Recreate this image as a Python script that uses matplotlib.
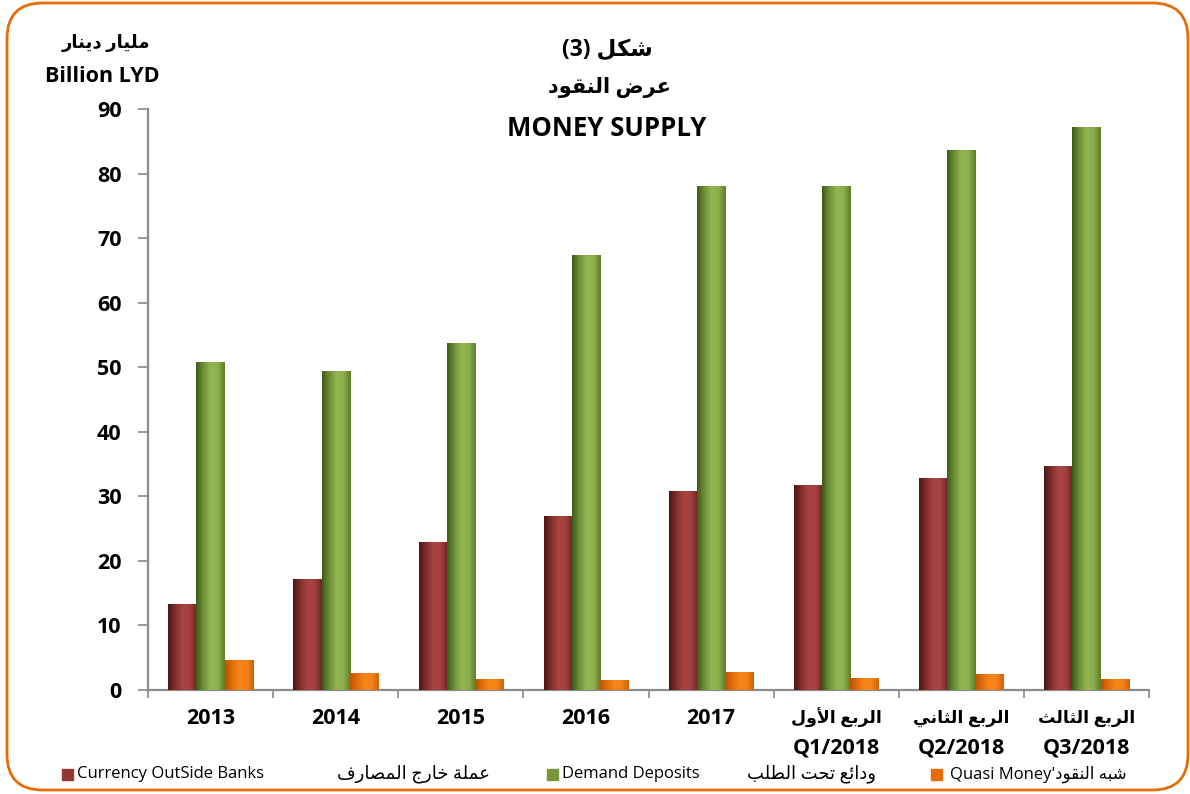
import numpy as np
import matplotlib
matplotlib.use("Agg")
import matplotlib.pyplot as plt
from matplotlib.colors import LinearSegmentedColormap
from matplotlib.patches import FancyBboxPatch, Rectangle

# ---------------- data ----------------
categories_en = ["2013", "2014", "2015", "2016", "2017", "Q1/2018", "Q2/2018", "Q3/2018"]
categories_ar = ["", "", "", "", "", "الربع الأول", "الربع الثاني", "الربع الثالث"]
currency_outside_banks = [13.3, 17.2, 22.9, 27.0, 30.8, 31.8, 32.8, 34.7]
demand_deposits = [50.8, 49.4, 53.7, 67.4, 78.1, 78.1, 83.6, 87.2]
quasi_money = [4.6, 2.6, 1.7, 1.5, 2.8, 1.9, 2.5, 1.7]
y_ticks = [0, 10, 20, 30, 40, 50, 60, 70, 80, 90]

# ---------------- minimal Arabic shaping ----------------
AR_FORMS = {
    '\u0621': (0xFE80, 0), '\u0622': (0xFE81, 1), '\u0623': (0xFE83, 1),
    '\u0624': (0xFE85, 1), '\u0625': (0xFE87, 1), '\u0626': (0xFE89, 2),
    '\u0627': (0xFE8D, 1), '\u0628': (0xFE8F, 2), '\u0629': (0xFE93, 1),
    '\u062A': (0xFE95, 2), '\u062B': (0xFE99, 2), '\u062C': (0xFE9D, 2),
    '\u062D': (0xFEA1, 2), '\u062E': (0xFEA5, 2), '\u062F': (0xFEA9, 1),
    '\u0630': (0xFEAB, 1), '\u0631': (0xFEAD, 1), '\u0632': (0xFEAF, 1),
    '\u0633': (0xFEB1, 2), '\u0634': (0xFEB5, 2), '\u0635': (0xFEB9, 2),
    '\u0636': (0xFEBD, 2), '\u0637': (0xFEC1, 2), '\u0638': (0xFEC5, 2),
    '\u0639': (0xFEC9, 2), '\u063A': (0xFECD, 2), '\u0641': (0xFED1, 2),
    '\u0642': (0xFED5, 2), '\u0643': (0xFED9, 2), '\u0644': (0xFEDD, 2),
    '\u0645': (0xFEE1, 2), '\u0646': (0xFEE5, 2), '\u0647': (0xFEE9, 2),
    '\u0648': (0xFEED, 1), '\u0649': (0xFEEF, 1), '\u064A': (0xFEF1, 2),
}
LAM_ALEF = {'\u0622': (0xFEF5, 0xFEF6), '\u0623': (0xFEF7, 0xFEF8),
            '\u0625': (0xFEF9, 0xFEFA), '\u0627': (0xFEFB, 0xFEFC)}


def ar(s):
    tokens = []
    i = 0
    while i < len(s):
        c = s[i]
        if c == '\u0644' and i + 1 < len(s) and s[i + 1] in LAM_ALEF:
            tokens.append(('LA', s[i + 1]))
            i += 2
        else:
            tokens.append(('C', c))
            i += 1

    def jt(t):
        if t[0] == 'LA':
            return 1
        return AR_FORMS[t[1]][1] if t[1] in AR_FORMS else 0

    res = []
    for k, t in enumerate(tokens):
        j = jt(t)
        pj = k > 0 and jt(tokens[k - 1]) == 2 and j > 0
        nj = k + 1 < len(tokens) and j == 2 and jt(tokens[k + 1]) > 0
        if t[0] == 'LA':
            iso, fin = LAM_ALEF[t[1]]
            res.append(chr(fin if pj else iso))
        elif t[1] in AR_FORMS:
            base, typ = AR_FORMS[t[1]]
            if typ == 0:
                res.append(chr(base))
            elif typ == 1:
                res.append(chr(base + 1 if pj else base))
            else:
                if pj and nj:
                    res.append(chr(base + 3))
                elif pj:
                    res.append(chr(base + 1))
                elif nj:
                    res.append(chr(base + 2))
                else:
                    res.append(chr(base))
        else:
            res.append(t[1])
    return ''.join(res)[::-1]


# ---------------- figure ----------------
FONT = ['Open Sans', 'DejaVu Sans']
LFONT = ['Open Sans', 'DejaVu Sans']
plt.rcParams['font.family'] = FONT

W, H = 1190, 794
fig = plt.figure(figsize=(W / 100, H / 100), dpi=100)
fig.patch.set_facecolor('white')

# rounded orange frame
frame = FancyBboxPatch((7 / W, 4 / H), (1181 / W), (787 / H),
                       boxstyle="round,pad=0,rounding_size=0.03",
                       transform=fig.transFigure, fill=False,
                       edgecolor='#E46C0A', linewidth=2.0, mutation_aspect=W / H)
fig.patches.append(frame)

ax_l, ax_r, ax_b, ax_t = 148, 1149, 690, 109
ax = fig.add_axes([ax_l / W, 1 - ax_b / H, (ax_r - ax_l) / W, (ax_b - ax_t) / H])

n = len(categories_en)
x = np.arange(n)
bw = 0.225

series = [
    (currency_outside_banks, -bw, ['#4a1817', '#7d2b29', '#a8443f', '#a54240', '#6e2523']),
    (demand_deposits, 0.0, ['#3e5a19', '#6a8a34', '#93b552', '#8eaf4d', '#5e7d2a']),
    (quasi_money, bw, ['#b95606', '#df6a08', '#f7861a', '#f58317', '#d06307']),
]

grad = np.linspace(0, 1, 64).reshape(1, -1)
for vals, off, cols in series:
    bars = ax.bar(x + off, vals, width=bw, color=cols[2], linewidth=0, zorder=2)
    cmap = LinearSegmentedColormap.from_list('g', list(zip([0, 0.22, 0.5, 0.75, 1.0], cols)))
    for p in bars:
        bx, by = p.get_x(), p.get_y()
        bwid, bh = p.get_width(), p.get_height()
        im = ax.imshow(grad, cmap=cmap, aspect='auto',
                       extent=(bx, bx + bwid, by, by + bh), zorder=3)
        im.set_clip_path(p)

ax.set_xlim(-0.5, n - 0.5)
ax.set_ylim(0, 90)
ax.set_yticks(y_ticks)
ax.set_yticklabels([str(v) for v in y_ticks], fontsize=15.5, fontweight='bold')
ax.set_xticks(np.arange(n + 1) - 0.5)
ax.set_xticklabels([])
ax.tick_params(axis='y', length=7, width=1.2, color='#888888', pad=12)
ax.tick_params(axis='x', length=6, width=1.2, color='#888888', direction='out')
for s in ['top', 'right']:
    ax.spines[s].set_visible(False)
for s in ['left', 'bottom']:
    ax.spines[s].set_color('#8c8c8c')
    ax.spines[s].set_linewidth(1.6)

# category labels
for i in range(n):
    xd = ax.transData.transform((x[i], 0))[0] / W
    if categories_ar[i]:
        fig.text(xd, 1 - 718 / H, ar(categories_ar[i]), ha='center', va='center',
                 fontsize=12.5, fontweight='bold', family=FONT)
        fig.text(xd, 1 - 748 / H, categories_en[i], ha='center', va='center',
                 fontsize=15.5, fontweight='bold', family=FONT)
    else:
        fig.text(xd, 1 - 719 / H, categories_en[i], ha='center', va='center',
                 fontsize=15.5, fontweight='bold', family=FONT)

# title
fig.text(607 / W, 1 - 50 / H, '(3) ' + ar('شكل'), ha='center', va='center',
         fontsize=16.5, fontweight='bold', family=FONT)
fig.text(610 / W, 1 - 87 / H, ar('عرض النقود'), ha='center', va='center',
         fontsize=15, fontweight='bold', family=FONT)
fig.text(607 / W, 1 - 129 / H, 'MONEY SUPPLY', ha='center', va='center',
         fontsize=18.5, fontweight='bold', family=FONT)

# y-axis unit label
fig.text(150 / W, 1 - 43 / H, ar('مليار دينار'), ha='right', va='center',
         fontsize=13, fontweight='bold', family=FONT)
fig.text(160 / W, 1 - 76 / H, 'Billion LYD', ha='right', va='center',
         fontsize=15.5, fontweight='bold', family=FONT)

# legend (manual layout)
leg_y = 1 - 774 / H
legend_items = [
    ('#953735', 62, 'Currency OutSide Banks', ar('عملة خارج المصارف'), 490),
    ('#77933C', 547, 'Demand Deposits', ar('ودائع تحت الطلب'), 876),
]
for col, sx, en, arab, ar_right in legend_items:
    fig.patches.append(Rectangle((sx / W, leg_y - 5.5 / H), 11 / W, 11 / H,
                                 transform=fig.transFigure, color=col))
    fig.text((sx + 15) / W, leg_y, en, ha='left', va='center', fontsize=12, family=LFONT)
    fig.text(ar_right / W, leg_y, arab, ha='right', va='center', fontsize=13, family=LFONT)
fig.patches.append(Rectangle((931 / W, leg_y - 5.5 / H), 11 / W, 11 / H,
                             transform=fig.transFigure, color='#E46C0A'))
fig.text(950 / W, leg_y, "Quasi Money'" + ar('شبه النقود'), ha='left', va='center',
         fontsize=12, family=LFONT)

fig.savefig('out.png', dpi=100, facecolor='white')
